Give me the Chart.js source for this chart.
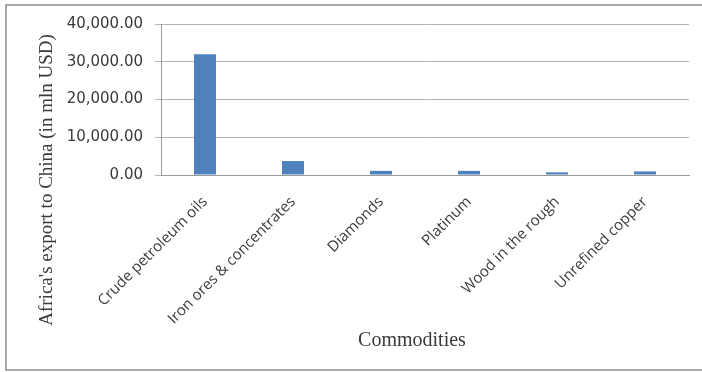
<!DOCTYPE html>
<html>
<head>
<meta charset="utf-8">
<script src="https://cdn.jsdelivr.net/npm/chart.js@4.4.1/dist/chart.umd.min.js"></script>
<style>
  html, body { margin: 0; padding: 0; background: #ffffff; }
  #wrap { width: 702px; height: 372px; position: relative; }
</style>
</head>
<body>
<div id="wrap"><canvas id="exports"></canvas></div>
<script>
const COMMODITIES = [
  "Crude petroleum oils",
  "Iron ores & concentrates",
  "Diamonds",
  "Platinum",
  "Wood in the rough",
  "Unrefined copper"
];
const EXPORT_VALUES = [32000, 3700, 1100, 1100, 700, 950];
const Y_TICKS = [0, 10000, 20000, 30000, 40000];

const BAR_COLOR = "#4f81bd";
const TEXT_COLOR = "#3a3a3a";
const SERIF = "'Liberation Serif'";

// frame round the whole chart plus both axis titles
const framePlugin = {
  id: "frameAndTitles",
  afterDraw(chart) {
    const { ctx } = chart;
    ctx.save();
    ctx.strokeStyle = "#8c8c8c";
    ctx.lineWidth = 1.5;
    ctx.strokeRect(6, 5, 730, 365);

    ctx.fillStyle = TEXT_COLOR;
    ctx.textAlign = "center";
    ctx.textBaseline = "middle";

    ctx.font = "20px " + SERIF;
    ctx.fillText("Commodities", 412, 341);

    ctx.translate(47, 180);
    ctx.rotate(-Math.PI / 2);
    ctx.font = "19px " + SERIF;
    ctx.fillText("Africa's export to China (in mln USD)", 0, 0);
    ctx.restore();
  }
};

function formatTick(value) {
  return Number(value).toLocaleString("en-US", { minimumFractionDigits: 2, maximumFractionDigits: 2 });
}

new Chart(document.getElementById("exports"), {
  type: "bar",
  data: {
    labels: COMMODITIES,
    datasets: [
      {
        data: EXPORT_VALUES,
        backgroundColor: BAR_COLOR,
        barPercentage: 0.25,
        categoryPercentage: 1
      }
    ]
  },
  options: {
    responsive: true,
    maintainAspectRatio: false,
    animation: false,
    layout: {
      padding: { top: 24, right: 13, bottom: 0, left: 0 }
    },
    plugins: {
      legend: { display: false },
      tooltip: { enabled: false }
    },
    scales: {
      x: {
        afterFit(scale) {
          scale.height = 197;
        },
        grid: {
          display: false,
          drawTicks: false
        },
        border: {
          color: "#9a9a9a",
          width: 1
        },
        ticks: {
          minRotation: 45,
          maxRotation: 45,
          padding: 18,
          color: TEXT_COLOR,
          font: { family: "'Open Sans'", size: 15 }
        }
      },
      y: {
        min: 0,
        max: 40000,
        afterFit(scale) {
          scale.width = 161;
        },
        afterBuildTicks(scale) {
          scale.ticks = Y_TICKS.map((v) => ({ value: v }));
        },
        grid: {
          color: "#b4b4b4",
          tickLength: 6
        },
        border: {
          color: "#9a9a9a",
          width: 1
        },
        ticks: {
          padding: 12,
          color: TEXT_COLOR,
          font: { family: "'DejaVu Sans'", size: 15 },
          callback: formatTick
        }
      }
    }
  },
  plugins: [framePlugin]
});
</script>
</body>
</html>
